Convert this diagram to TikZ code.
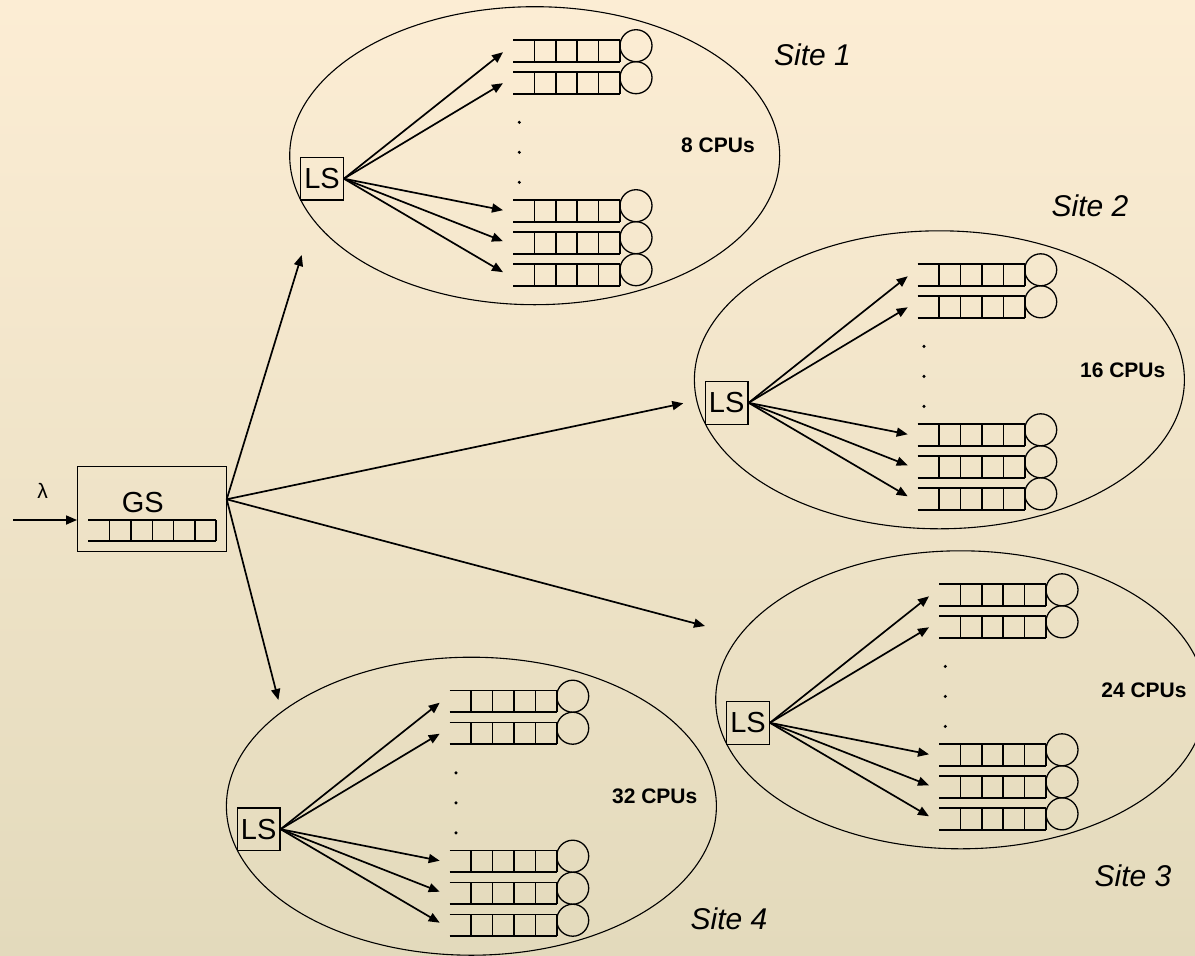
\documentclass[tikz,border=0pt]{standalone}
\usepackage{fontspec}
\setmainfont{Liberation Sans}
\usetikzlibrary{arrows.meta}
\definecolor{bgtop}{RGB}{252,237,212}
\definecolor{bgbot}{RGB}{227,218,188}

\tikzset{
  lsbox/.style={draw, line width=1.2pt, minimum width=42.6pt, minimum height=42.6pt,
    inner sep=0pt, font=\fontsize{29}{30}\selectfont},
  gsbox/.style={draw, line width=1.3pt, minimum width=149pt, minimum height=85pt, inner sep=0pt},
  sitering/.style={draw, line width=1.1pt},
  feed/.style={line width=1.7pt, -{Triangle[length=11pt,width=9pt]}},
  queueline/.style={line width=1.6pt},
  server/.style={draw, line width=1.3pt, circle, minimum size=32pt, inner sep=0pt},
  cpulabel/.style={font=\bfseries\fontsize{21}{24}\selectfont},
  sitelabel/.style={font=\itshape\fontsize{30}{34}\selectfont},
  plainlabel/.style={font=\fontsize{29}{30}\selectfont, inner sep=0pt},
}

% one waiting line of five cells closed by its server; #2 = y of the bottom edge
\newcommand{\cpuqueue}[2]{%
  \begin{scope}[shift={(191,#2)}]
    \draw[queueline] (0,0) -- (107,0) (0,-21.7) -- (107,-21.7);
    \foreach \k in {0,...,4} \draw[queueline] ({21.4+21.4*\k},0) -- ++(0,-21.7);
    \node[server] (#1srv) at (123,-16) {};
  \end{scope}}

% a site: local scheduler, its processors and the enclosing ring
\newcommand{\cluster}[4]{%
  \begin{scope}[shift={(#2,#3)}]
    \draw[sitering] (212.7,-23) ellipse [x radius=245pt, y radius=149pt];
    \node[lsbox] (#1ls) at (0,0) {LS};
    \cpuqueue{#1a}{-117}
    \cpuqueue{#1b}{-85}
    \cpuqueue{#1c}{43}
    \cpuqueue{#1d}{75}
    \cpuqueue{#1e}{107}
    \foreach \d in {-56.4,-26.4,3.6} \fill (197.3,\d) circle[radius=1.7pt];
    \node[cpulabel] (#1cpu) at (396,-33) {#4};
    \coordinate (#1ta) at (181,-126.5);
    \coordinate (#1tb) at (181,-95.5);
    \coordinate (#1tc) at (181,31.5);
    \coordinate (#1td) at (181,62.5);
    \coordinate (#1te) at (181,93.5);
    \foreach \q in {a,b,c,d,e} \draw[feed] (#1ls.east) -- (#1t\q);
  \end{scope}}

\begin{document}
\begin{tikzpicture}[x=1pt, y=-1pt]
  \useasboundingbox (0,0) rectangle (1195,956);
  \shade[top color=bgtop, bottom color=bgbot] (0,0) rectangle (1195,956);

  % global scheduler with its queue
  \node[gsbox] (gs) at (152.2,509.2) {};
  \node[plainlabel] (gstext) at (142.7,502.3) {GS};
  \draw[queueline] (88.3,520) -- (216,520) (88.3,541) -- (216,541);
  \foreach \x in {109.3,131,152.3,173.3,195,216} \draw[queueline] (\x,520) -- (\x,541);

  \coordinate (src) at (13.3,520);
  \draw[feed] (src) -- (gs.west |- src);
  \node[font=\fontsize{21}{24}\selectfont] (lambda) at (42.7,490.7) {λ};

  % sites
  \cluster{sa}{322}{178.7}{8 CPUs}
  \cluster{sb}{726.7}{402.8}{16 CPUs}
  \cluster{sc}{748}{722.8}{24 CPUs}
  \cluster{sd}{258.7}{829.2}{32 CPUs}

  \node[sitelabel] (labA) at (812.5,55) {Site 1};
  \node[sitelabel] (labB) at (1090,206) {Site 2};
  \node[sitelabel] (labC) at (1133,876) {Site 3};
  \node[sitelabel] (labD) at (729,919) {Site 4};

  % dispatch from the global scheduler
  \coordinate (gsout) at (226.7,499.3);
  \coordinate (toA) at (301.7,255);
  \coordinate (toB) at (683.3,403.3);
  \coordinate (toC) at (705,626);
  \coordinate (toD) at (278.4,700);
  \foreach \t in {toA,toB,toC,toD} \draw[feed] (gsout) -- (\t);
\end{tikzpicture}
\end{document}
